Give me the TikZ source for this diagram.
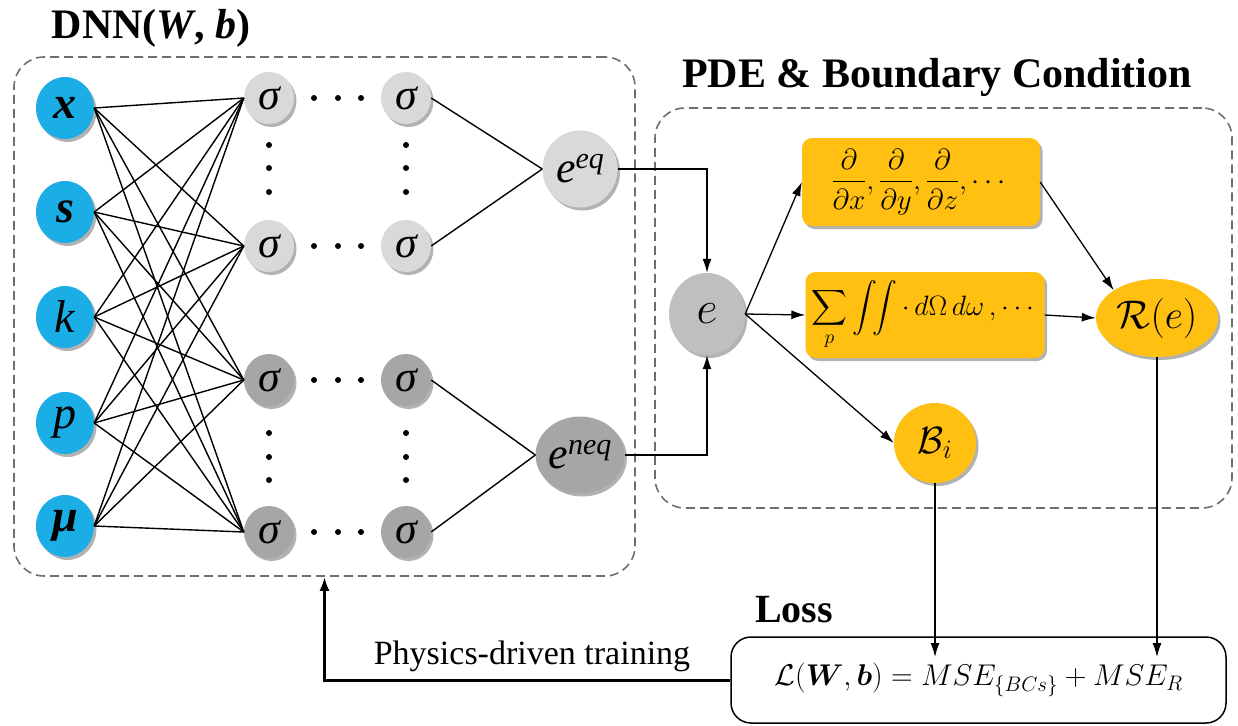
\RequirePackage{fix-cm}
\documentclass[tikz,border=0pt]{standalone}
\usepackage{amsmath,bm}
\usepackage{fontspec}
\setmainfont{Liberation Serif}
\usetikzlibrary{shadows,arrows.meta,shapes.geometric,calc}
\definecolor{inblue}{HTML}{1BAEE6}
\definecolor{lgray}{HTML}{D9D9D9}
\definecolor{dgray}{HTML}{A6A6A6}
\definecolor{egray}{HTML}{BFBFBF}
\definecolor{gold}{HTML}{FFC012}
\definecolor{dashgray}{HTML}{6E6E6E}
\newcommand{\fs}[1]{\fontsize{#1}{#1}\selectfont}
\begin{document}
\begin{tikzpicture}[x=1pt,y=-1pt,
  shd/.style={drop shadow={shadow xshift=2.5pt,shadow yshift=-3pt,opacity=0.3,fill=black}},
  inp/.style={ellipse,fill=inblue,minimum width=58pt,minimum height=62pt,inner sep=0pt,shd,font=\fs{46}},
  hid/.style={ellipse,minimum width=50pt,minimum height=52pt,inner sep=0pt,shd,font=\fs{44}\itshape},
  outn/.style={ellipse,minimum width=75pt,minimum height=77pt,inner sep=0pt,shd,font=\fs{44}\itshape},
  goldbox/.style={rectangle,rounded corners=10pt,fill=gold,inner sep=0pt,shd},
  goldell/.style={ellipse,fill=gold,inner sep=0pt,shd},
  dbox/.style={draw=dashgray,dash pattern=on 9pt off 5pt,line width=1.6pt,rounded corners=30pt,inner sep=0pt},
  conn/.style={line width=1.4pt},
  arr/.style={line width=1.3pt,-{Latex[length=14pt,width=9pt]}},
  dotm/.style={circle,fill=black,inner sep=0pt,minimum size=6pt}
]
\useasboundingbox (0,0) rectangle (1238,725);

% boxes
\node[dbox,minimum width=621pt,minimum height=519pt] (dnnbox) at (324.5,316.5) {};
\node[dbox,minimum width=577pt,minimum height=400pt] (pdebox) at (943.5,308) {};

% titles
\node[font=\fs{42}\bfseries] (t1) at (151,28) {DNN(\textit{W}, \textit{b})};
\node[font=\fs{42}\bfseries] (t2) at (937,77) {PDE \& Boundary Condition};

% inputs
\node[inp] (ix) at (65,108) {\bfseries\itshape x};
\node[inp] (is) at (65,212) {\bfseries\itshape s};
\node[inp] (ik) at (65,317) {\itshape k};
\node[inp] (ip) at (65,423) {\itshape p};
\node[inp] (im) at (65,526) {\bfseries\itshape μ};

% hidden
\node[hid,fill=lgray] (a1) at (269,98) {σ};
\node[hid,fill=lgray] (a2) at (269,246) {σ};
\node[hid,fill=dgray] (a3) at (269,380) {σ};
\node[hid,fill=dgray] (a4) at (269,532) {σ};
\node[hid,fill=lgray] (b1) at (406,98) {σ};
\node[hid,fill=lgray] (b2) at (406,246) {σ};
\node[hid,fill=dgray] (b3) at (406,380) {σ};
\node[hid,fill=dgray] (b4) at (406,532) {σ};

% dots
\foreach \yy in {98,246,380,532}{
  \foreach \xx in {314,338,361}{\node[dotm] at (\xx,\yy) {};}}
\foreach \xx in {269,406}{
  \foreach \yy in {145,168,192,433,457,480}{\node[dotm] at (\xx,\yy) {};}}

% outputs
\node[outn,fill=lgray] (eeq) at (580,169) {e\raisebox{14pt}{\fs{30}eq}};
\node[outn,fill=dgray] (eneq) at (580,455) {e\raisebox{14pt}{\fs{30}neq}};

% input -> hidden
\foreach \i in {ix,is,ik,ip,im}{
  \foreach \h in {a1,a2,a3,a4}{\draw[conn] (\i.east) -- (\h.west);}}
\draw[conn] (b1.east) -- (eeq.west);
\draw[conn] (b2.east) -- (eeq.west);
\draw[conn] (b3.east) -- (eneq.west);
\draw[conn] (b4.east) -- (eneq.west);

% PDE part
\node[ellipse,fill=egray,minimum width=76pt,minimum height=82pt,inner sep=0pt,shd,font=\fs{46}] (e) at (707,314) {$e$};
\node[goldbox,minimum width=238pt,minimum height=88pt,font=\fs{29}] (pd) at (921,182)
  {$\dfrac{\partial}{\partial x},\dfrac{\partial}{\partial y},\dfrac{\partial}{\partial z},\cdots$\hspace{36pt}};
\node[goldbox,minimum width=239pt,minimum height=86pt,font=\fs{28}] (sm) at (925,315)
  {$\displaystyle\sum_p\int\!\!\int\cdot\,d\Omega\,d\omega\,,\cdots$};
\node[goldell,minimum width=122pt,minimum height=78pt,font=\fs{40}] (R) at (1157,318) {$\mathcal{R}(e)$};
\node[goldell,minimum width=82pt,minimum height=80pt,font=\fs{38}] (Bi) at (935,443) {$\mathcal{B}_i$};

\draw[arr] (eeq.east) -- (707,169) -- (e.north);
\draw[arr] (eneq.east) -- (707,455) -- (e.south);
\draw[arr] (e.east) -- (pd.west);
\draw[arr] (e.east) -- (sm.west);
\draw[arr] (e.east) -- (Bi.west);
\draw[arr] (pd.east) -- (R.north west);
\draw[arr] (sm.east) -- (R.west);

% loss
\node[draw,line width=1.5pt,rounded corners=20pt,fill=white,minimum width=495pt,minimum height=86pt,font=\fs{30}] (loss) at (978.5,680)
  {$\mathcal{L}(\boldsymbol{W},\boldsymbol{b}) = MSE_{\{BCs\}} + MSE_R$};
\node[font=\fs{40}\bfseries] (lt) at (794,610) {Loss};
\coordinate (bt) at (935,657);
\coordinate (rt) at (1157,657);
\draw[arr] (Bi.south) -- (bt);
\draw[arr] (R.south) -- (rt);

\draw[line width=3pt,-{Latex[length=14pt,width=10pt]}] (loss.west) -| (dnnbox.south);
\node[font=\fs{34}] (pt) at (532,656) {Physics-driven training};
\end{tikzpicture}
\end{document}
